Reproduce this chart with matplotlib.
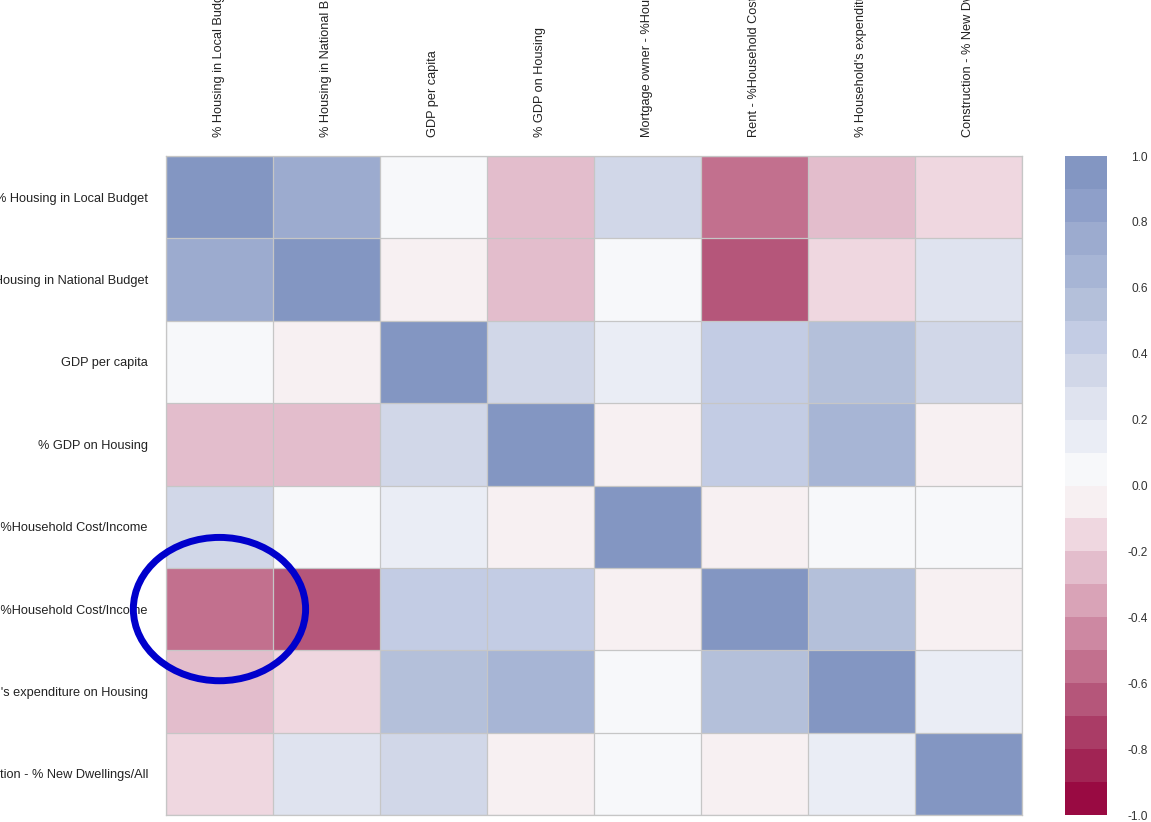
import numpy as np
import matplotlib.pyplot as plt
from matplotlib.colors import ListedColormap, BoundaryNorm
from matplotlib.patches import Ellipse

plt.rcParams['font.family'] = ['Liberation Sans', 'DejaVu Sans']
plt.rcParams['axes.unicode_minus'] = False

labels = ['% Housing in Local Budget',
          '% Housing in National Budget',
          'GDP per capita',
          '% GDP on Housing',
          'Mortgage owner - %Household Cost/Income',
          'Rent - %Household Cost/Income',
          "% Household's expenditure on Housing",
          'Construction - % New Dwellings/All']

corr = np.array([
    [1.00, 0.75, 0.05, -0.25, 0.35, -0.55, -0.25, -0.15],
    [0.75, 1.00, -0.05, -0.25, 0.05, -0.65, -0.15, 0.25],
    [0.05, -0.05, 1.00, 0.35, 0.15, 0.45, 0.55, 0.35],
    [-0.25, -0.25, 0.35, 1.00, -0.05, 0.45, 0.65, -0.05],
    [0.35, 0.05, 0.15, -0.05, 1.00, -0.05, 0.05, 0.05],
    [-0.55, -0.65, 0.45, 0.45, -0.05, 1.00, 0.55, -0.05],
    [-0.25, -0.15, 0.55, 0.65, 0.05, 0.55, 1.00, 0.15],
    [-0.15, 0.25, 0.35, -0.05, 0.05, -0.05, 0.15, 1.00],
])

# 20 colour steps from -1 to 1
bin_colors = ['#990a42', '#a12454', '#aa3c66', '#b5567a', '#c2708e',
              '#cd88a2', '#d9a3b7', '#e3bdcc', '#efd7e0', '#f7f0f2',
              '#f7f8fa', '#eaedf5', '#dfe3ef', '#d1d7e8', '#c3cce4',
              '#b4c0da', '#a7b5d5', '#9cabcf', '#8e9fc9', '#8396c2']
bounds = np.linspace(-1, 1, 21)
cbar_ticks = [-1.0, -0.8, -0.6, -0.4, -0.2, 0.0, 0.2, 0.4, 0.6, 0.8, 1.0]
cbar_labels = ['-1.0', '-0.8', '-0.6', '-0.4', '-0.2', '0.0', '0.2', '0.4', '0.6', '0.8', '1.0']
highlight = (5, 0)  # row, col of circled cell

cmap = ListedColormap(bin_colors)
cmap.set_over(bin_colors[-1])
cmap.set_under(bin_colors[0])
norm = BoundaryNorm(bounds, cmap.N)

fig = plt.figure(figsize=(11.51, 8.22), dpi=100)
ax = fig.add_axes([0.1442, 0.0085, 0.7437, 0.8017])
cax = fig.add_axes([0.9253, 0.0085, 0.0365, 0.8017])

n = len(labels)
mesh = ax.pcolormesh(corr, cmap=cmap, norm=norm)
ax.set_xlim(0, n)
ax.set_ylim(n, 0)
for s in ax.spines.values():
    s.set_color('#c6c6c6')
    s.set_linewidth(0.9)

# cell borders
ax.set_xticks(np.arange(n + 1), minor=True)
ax.set_yticks(np.arange(n + 1), minor=True)
ax.grid(which='minor', color='#c6c6c6', linewidth=0.9)
ax.grid(which='major', visible=False)
ax.set_axisbelow(False)

ax.xaxis.tick_top()
ax.set_xticks(np.arange(n) + 0.5)
ax.set_xticklabels(labels, rotation=90, fontsize=9.2, color='#222222')
ax.set_yticks(np.arange(n) + 0.5)
ax.set_yticklabels(labels, fontsize=9.2, color='#222222')
ax.tick_params(axis='x', which='both', length=0, pad=13.7)
ax.tick_params(axis='y', which='both', length=0, pad=13)

cbar = fig.colorbar(mesh, cax=cax, ticks=cbar_ticks)
cbar.outline.set_visible(False)
cbar.minorticks_off()
cax.set_yticklabels(cbar_labels)
cax.tick_params(which='both', length=0, pad=29.5, labelsize=8.6, labelcolor='#333333')
for t in cax.get_yticklabels():
    t.set_horizontalalignment('right')

ell = Ellipse((highlight[1] + 0.5, highlight[0] + 0.5), width=1.61, height=1.74,
              fill=False, edgecolor='#0000cc', linewidth=5, clip_on=False, zorder=5)
ax.add_patch(ell)

fig.savefig('out.png', dpi=100)
